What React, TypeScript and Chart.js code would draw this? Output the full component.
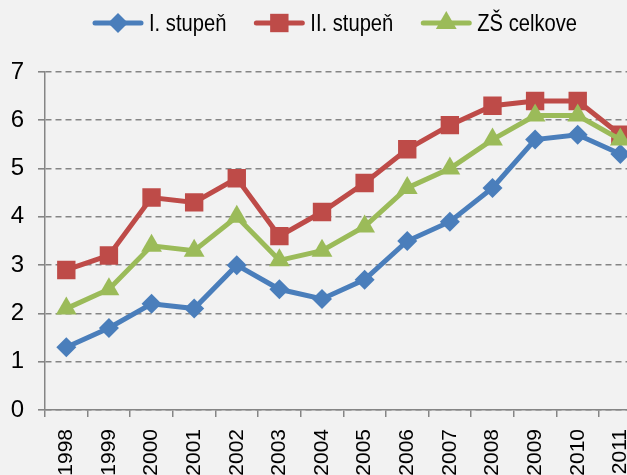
import React, { useEffect, useRef } from "react";
import { Chart, registerables } from "chart.js";

Chart.register(...registerables);

const years = ["1998", "1999", "2000", "2001", "2002", "2003", "2004", "2005", "2006", "2007", "2008", "2009", "2010", "2011"];
const stupen1 = [1.3, 1.7, 2.2, 2.1, 3.0, 2.5, 2.3, 2.7, 3.5, 3.9, 4.6, 5.6, 5.7, 5.3];
const stupen2 = [2.9, 3.2, 4.4, 4.3, 4.8, 3.6, 4.1, 4.7, 5.4, 5.9, 6.3, 6.4, 6.4, 5.7];
const celkove = [2.1, 2.5, 3.4, 3.3, 4.0, 3.1, 3.3, 3.8, 4.6, 5.0, 5.6, 6.1, 6.1, 5.6];
const seriesNames = ["I. stupeň", "II. stupeň", "ZŠ celkove"];
const yTicks = [0, 1, 2, 3, 4, 5, 6, 7];

const BLUE = "#4a7ebb";
const RED = "#be4b48";
const GREEN = "#9bbb59";
const GRID = "#858585";
const FONT = "'Liberation Sans', Arial, sans-serif";

function drawMarker(ctx: CanvasRenderingContext2D, style: string, x: number, y: number, r: number, color: string) {
  ctx.save();
  ctx.fillStyle = color;
  ctx.beginPath();
  if (style === "rectRot") {
    ctx.moveTo(x, y - r);
    ctx.lineTo(x + r, y);
    ctx.lineTo(x, y + r);
    ctx.lineTo(x - r, y);
  } else if (style === "rect") {
    const s = r * Math.SQRT1_2;
    ctx.rect(x - s, y - s, 2 * s, 2 * s);
  } else {
    ctx.moveTo(x, y - r);
    ctx.lineTo(x + r * 0.866, y + r * 0.5);
    ctx.lineTo(x - r * 0.866, y + r * 0.5);
  }
  ctx.closePath();
  ctx.fill();
  ctx.restore();
}

const legendPlugin = {
  id: "customLegend",
  afterDraw(chart: any) {
    const ctx: CanvasRenderingContext2D = chart.ctx;
    ctx.save();
    ctx.font = `24px ${FONT}`;
    ctx.textBaseline = "middle";
    ctx.textAlign = "left";
    const squeeze = 0.84;
    const items = [
      { text: seriesNames[0], color: BLUE, style: "rectRot", r: 10 },
      { text: seriesNames[1], color: RED, style: "rect", r: 13 },
      { text: seriesNames[2], color: GREEN, style: "triangle", r: 12 },
    ];
    const lineLen = 50;
    const textGap = 6;
    const itemGap = 28;
    const widths = items.map((it) => lineLen + textGap + ctx.measureText(it.text).width * squeeze);
    const total = widths.reduce((a, b) => a + b, 0) + itemGap * (items.length - 1);
    let x = 335 - total / 2;
    const y = 23;
    items.forEach((it, i) => {
      ctx.strokeStyle = it.color;
      ctx.lineWidth = 5;
      ctx.lineCap = "round";
      ctx.beginPath();
      ctx.moveTo(x + 2, y);
      ctx.lineTo(x + lineLen - 2, y);
      ctx.stroke();
      drawMarker(ctx, it.style, x + lineLen / 2, y, it.r, it.color);
      ctx.save();
      ctx.translate(x + lineLen + textGap, y + 1);
      ctx.scale(squeeze, 1);
      ctx.fillStyle = "#000";
      ctx.fillText(it.text, 0, 0);
      ctx.restore();
      x += widths[i] + itemGap;
    });
    ctx.restore();
  },
};

export default function App() {
  const ref = useRef<HTMLCanvasElement | null>(null);
  useEffect(() => {
    if (!ref.current) return;
    const chart = new Chart(ref.current, {
      type: "line",
      data: {
        labels: years,
        datasets: [
          {
            label: seriesNames[0],
            data: stupen1,
            borderColor: BLUE,
            backgroundColor: BLUE,
            borderWidth: 5,
            pointStyle: "rectRot",
            pointRadius: 10,
            pointBorderWidth: 0,
            pointBackgroundColor: BLUE,
            order: 2,
          },
          {
            label: seriesNames[1],
            data: stupen2,
            borderColor: RED,
            backgroundColor: RED,
            borderWidth: 5,
            pointStyle: "rect",
            pointRadius: 13,
            pointBorderWidth: 0,
            pointBackgroundColor: RED,
            order: 1,
          },
          {
            label: seriesNames[2],
            data: celkove,
            borderColor: GREEN,
            backgroundColor: GREEN,
            borderWidth: 5,
            pointStyle: "triangle",
            pointRadius: 12,
            pointBorderWidth: 0,
            pointBackgroundColor: GREEN,
            order: 0,
          },
        ],
      },
      options: {
        responsive: false,
        animation: false,
        layout: { padding: { top: 72, left: 0, right: 0, bottom: 0 } },
        plugins: { legend: { display: false }, tooltip: { enabled: false } },
        elements: { line: { tension: 0 } },
        scales: {
          x: {
            type: "category",
            offset: true,
            grid: { display: true, drawOnChartArea: false, drawTicks: true, tickLength: 7, color: GRID, lineWidth: 1.5, offset: true },
            border: { display: true, color: GRID, width: 1.5 },
            ticks: { minRotation: 90, maxRotation: 90, autoSkip: false, padding: 12, color: "#000", font: { family: FONT, size: 21 } },
            afterFit: (s: any) => { s.height = 65; },
          },
          y: {
            min: 0,
            max: 7,
            afterBuildTicks: (s: any) => { s.ticks = yTicks.map((v) => ({ value: v })); },
            grid: { color: GRID, lineWidth: 1.6, tickLength: 7, tickBorderDash: [], drawTicks: true },
            border: { display: true, color: GRID, width: 1.5, dash: [6, 4] },
            ticks: { padding: 14, color: "#000", font: { family: FONT, size: 24 } },
            afterFit: (s: any) => { s.width = 45; },
          },
        },
      },
      plugins: [legendPlugin],
    });
    return () => chart.destroy();
  }, []);
  return (
    <div style={{ position: "absolute", left: 0, top: 0, width: 627, height: 475, overflow: "hidden", background: "#f2f2f2" }}>
      <canvas ref={ref} width={658} height={475} style={{ display: "block" }} />
    </div>
  );
}
